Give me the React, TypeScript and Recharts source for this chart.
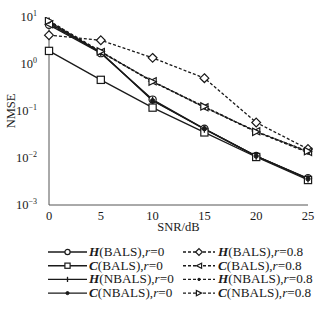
import { LineChart, Line, XAxis, YAxis, Legend } from 'recharts';

const snr = [0, 5, 10, 15, 20, 25];
const hBals0 = [6.8, 1.7, 0.175, 0.042, 0.011, 0.0037];
const cBals0 = [1.9, 0.46, 0.118, 0.035, 0.0105, 0.0034];
const hNbals0 = [8.0, 1.75, 0.17, 0.041, 0.011, 0.0036];
const cNbals0 = [7.4, 1.75, 0.165, 0.042, 0.011, 0.0036];
const hBals8 = [4.1, 3.2, 1.35, 0.5, 0.057, 0.0155];
const cBals8 = [7.0, 1.8, 0.43, 0.12, 0.037, 0.0135];
const hNbals8 = [8.0, 1.8, 0.42, 0.12, 0.036, 0.013];
const cNbals8 = [8.3, 1.85, 0.42, 0.125, 0.036, 0.014];
const yTicks = [0.001, 0.01, 0.1, 1, 10];
const xTicks = [0, 5, 10, 15, 20, 25];

const data = snr.map((s, i) => ({
  snr: s,
  hBals0: hBals0[i],
  cBals0: cBals0[i],
  hNbals0: hNbals0[i],
  cNbals0: cNbals0[i],
  hBals8: hBals8[i],
  cBals8: cBals8[i],
  hNbals8: hNbals8[i],
  cNbals8: cNbals8[i],
}));

const FONT = 'Liberation Serif, Times New Roman, serif';
const INK = '#1a1a1a';

type MarkerKind = 'circle' | 'square' | 'plus' | 'star' | 'diamond' | 'left' | 'dot' | 'right';

function Marker({ kind, cx, cy, s = 3.6 }: { kind: MarkerKind; cx: number; cy: number; s?: number }) {
  const common = { stroke: INK, strokeWidth: 1.2, fill: '#fff' };
  switch (kind) {
    case 'circle':
      return <circle cx={cx} cy={cy} r={s} {...common} />;
    case 'square':
      return <rect x={cx - s} y={cy - s} width={2 * s} height={2 * s} {...common} />;
    case 'plus':
      return <path d={`M${cx},${cy - s}V${cy + s}`} stroke={INK} strokeWidth={1.3} />;
    case 'star':
      return <circle cx={cx} cy={cy} r={s * 0.6} fill={INK} stroke={INK} />;
    case 'diamond':
      return <path d={`M${cx},${cy - s - 0.8}L${cx + s + 0.8},${cy}L${cx},${cy + s + 0.8}L${cx - s - 0.8},${cy}Z`} {...common} />;
    case 'left':
      return <path d={`M${cx - s},${cy}L${cx + s},${cy - s}L${cx + s},${cy + s}Z`} {...common} />;
    case 'dot':
      return <circle cx={cx} cy={cy} r={s * 0.45} fill={INK} stroke={INK} />;
    case 'right':
      return <path d={`M${cx + s},${cy}L${cx - s},${cy - s}L${cx - s},${cy + s}Z`} {...common} />;
  }
  return null;
}

const series: { key: string; head: string; alg: string; r: string; kind: MarkerKind; dashed: boolean }[] = [
  { key: 'hBals0', head: 'H', alg: '(BALS),', r: '=0', kind: 'circle', dashed: false },
  { key: 'cBals0', head: 'C', alg: '(BALS),', r: '=0', kind: 'square', dashed: false },
  { key: 'hNbals0', head: 'H', alg: '(NBALS),', r: '=0', kind: 'plus', dashed: false },
  { key: 'cNbals0', head: 'C', alg: '(NBALS),', r: '=0', kind: 'star', dashed: false },
  { key: 'hBals8', head: 'H', alg: '(BALS),', r: '=0.8', kind: 'diamond', dashed: true },
  { key: 'cBals8', head: 'C', alg: '(BALS),', r: '=0.8', kind: 'left', dashed: true },
  { key: 'hNbals8', head: 'H', alg: '(NBALS),', r: '=0.8', kind: 'dot', dashed: true },
  { key: 'cNbals8', head: 'C', alg: '(NBALS),', r: '=0.8', kind: 'right', dashed: true },
];

const YTick = (props: any) => {
  const { x, y, payload } = props;
  const exp = Math.round(Math.log10(payload.value));
  return (
    <text x={x - 4} y={y + 4} textAnchor="end" fontFamily={FONT} fontSize={12.5} fill={INK}>
      10
      <tspan dy={-5} fontSize={8}>{exp < 0 ? '\u2212' + Math.abs(exp) : exp}</tspan>
    </text>
  );
};

const XTick = (props: any) => {
  const { x, y, payload } = props;
  return (
    <text x={x} y={y + 7} textAnchor="middle" fontFamily={FONT} fontSize={12.5} fill={INK}>
      {payload.value}
    </text>
  );
};

const LegendBox = () => (
  <svg width={323} height={60}>
    {series.map((s, i) => {
      const col = i < 4 ? 0 : 1;
      const row = i % 4;
      const x0 = col === 0 ? 48 : 183;
      const x1 = col === 0 ? 87 : 215;
      const y = 7 + row * 13.7;
      const tx = col === 0 ? 89 : 218;
      return (
        <g key={s.key}>
          <line x1={x0} x2={x1} y1={y} y2={y} stroke={INK} strokeWidth={1.4} strokeDasharray={s.dashed ? '3 2' : undefined} />
          <Marker kind={s.kind} cx={(x0 + x1) / 2} cy={y} s={2.6} />
          <text x={tx} y={y + 4} fontFamily={FONT} fontSize={13.2} fill={INK}>
            <tspan fontWeight="bold" fontStyle="italic">{s.head}</tspan>
            <tspan>{s.alg}</tspan>
            <tspan fontStyle="italic">r</tspan>
            <tspan>{s.r}</tspan>
          </text>
        </g>
      );
    })}
  </svg>
);

export default function App() {
  return (
    <div style={{ position: 'absolute', left: 0, top: 0, width: 323, height: 318, background: '#fff', fontFamily: FONT }}>
      <LineChart width={323} height={318} data={data} margin={{ top: 17, right: 15, left: 0, bottom: 83 }}>
        <XAxis
          dataKey="snr"
          type="number"
          domain={[0, 25]}
          ticks={xTicks}
          stroke="#555"
          tickLine={false}
          height={30}
          tick={<XTick />}
          label={{ value: 'SNR/dB', position: 'insideBottom', offset: 4, style: { fontFamily: FONT, fontSize: 12.5, fill: INK } }}
        />
        <XAxis xAxisId="top" orientation="top" dataKey="snr" type="number" domain={[0, 25]} tick={false} tickLine={false} height={0} stroke="#333" />
        <YAxis
          scale="log"
          type="number"
          domain={[0.001, 10]}
          ticks={yTicks}
          allowDataOverflow
          stroke="#555"
          tickLine={false}
          width={49}
          tick={<YTick />}
          label={{ value: 'NMSE', angle: -90, position: 'insideLeft', offset: 11, style: { fontFamily: FONT, fontSize: 12.5, fill: INK, textAnchor: 'middle' } }}
        />
        <YAxis yAxisId="right" orientation="right" scale="log" type="number" domain={[0.001, 10]} tick={false} tickLine={false} width={0} stroke="#777" />
        <Legend layout="horizontal" verticalAlign="middle" align="center" content={<LegendBox />} wrapperStyle={{ position: 'absolute', top: 245, left: 0, width: 323 }} />
        {series.map((s) => (
          <Line
            key={s.key}
            dataKey={s.key}
            type="linear"
            stroke={INK}
            strokeWidth={1.3}
            strokeDasharray={s.dashed ? '3 2' : undefined}
            dot={(p: any) => <Marker key={s.key + p.index} kind={s.kind} cx={p.cx} cy={p.cy} />}
            activeDot={false}
            isAnimationActive={false}
          />
        ))}
      </LineChart>
    </div>
  );
}
